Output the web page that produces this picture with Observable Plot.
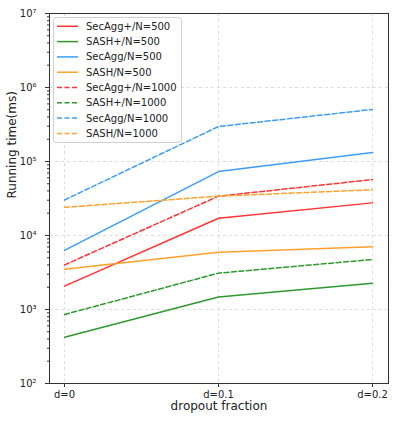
<!DOCTYPE html>
<html>
<head>
<meta charset="utf-8">
<script src="https://cdn.jsdelivr.net/npm/d3@7"></script>
<script src="https://cdn.jsdelivr.net/npm/@observablehq/plot@0.6"></script>
<style>
  html, body { margin: 0; padding: 0; background: white; }
  #chart { position: relative; width: 394px; height: 423px; }
</style>
</head>
<body>
<div id="chart"></div>
<script>
// ---- data ----
const dropout = ["d=0", "d=0.1", "d=0.2"];
const algorithms = ["SecAgg+", "SASH+", "SecAgg", "SASH"];
const algoColors = ["#ff3333", "#2e9a2e", "#3d9df5", "#ffa12b"];
const seriesNames = [
  "SecAgg+/N=500", "SASH+/N=500", "SecAgg/N=500", "SASH/N=500",
  "SecAgg+/N=1000", "SASH+/N=1000", "SecAgg/N=1000", "SASH/N=1000"
];
// running time (ms) at d=0, d=0.1, d=0.2
const secAggPlus500 = [2070, 17100, 27600];
const sashPlus500 = [423, 1480, 2270];
const secAgg500 = [6300, 73000, 132000];
const sash500 = [3500, 5950, 7030];
const secAggPlus1000 = [4000, 34000, 57000];
const sashPlus1000 = [855, 3100, 4740];
const secAgg1000 = [30200, 297000, 505000];
const sash1000 = [24000, 34000, 41500];
const yMajorTicks = [1e2, 1e3, 1e4, 1e5, 1e6, 1e7];
const yTickLabels = ["10²", "10³", "10⁴", "10⁵", "10⁶", "10⁷"];

const seriesValues = [secAggPlus500, sashPlus500, secAgg500, sash500,
  secAggPlus1000, sashPlus1000, secAgg1000, sash1000];

const rows = [];
seriesNames.forEach((name, i) => {
  const [algo, n] = name.split("/N=");
  seriesValues[i].forEach((v, j) => rows.push({series: name, algo, n: +n, x: dropout[j], value: v}));
});

const yMinorTicks = [];
for (let e = 2; e < 7; e++) for (let k = 2; k <= 9; k++) yMinorTicks.push(k * Math.pow(10, e));

const gridStyle = {stroke: "#d4d4d4", strokeOpacity: 1, strokeDasharray: "3,3", strokeWidth: 0.8};

const plot = Plot.plot({
  width: 394,
  height: 423,
  marginLeft: 49,
  marginRight: 6,
  marginTop: 13,
  marginBottom: 40,
  style: {fontFamily: "DejaVu Sans, sans-serif", fontSize: "10px", background: "white", color: "#222"},
  x: {type: "point", domain: dropout, padding: 0, insetLeft: 14, insetRight: 16, label: null},
  y: {type: "log", domain: [1e2, 1e7], label: null},
  color: {domain: algorithms, range: algoColors},
  marks: [
    Plot.gridY(yMajorTicks, gridStyle),
    Plot.gridX(dropout, gridStyle),
    Plot.axisY(yMinorTicks, {tickSize: 2, tickFormat: () => "", label: null, stroke: "#333"}),
    Plot.axisY(yMajorTicks, {tickSize: 4, tickPadding: 9, label: null, stroke: "#333",
      tickFormat: (d) => yTickLabels[yMajorTicks.indexOf(d)]}),
    Plot.axisX(dropout, {tickSize: 4, tickPadding: 3, label: null, stroke: "#333"}),
    Plot.line(rows.filter(d => d.n === 500), {x: "x", y: "value", z: "series", stroke: "algo", strokeWidth: 1.5}),
    Plot.line(rows.filter(d => d.n === 1000), {x: "x", y: "value", z: "series", stroke: "algo", strokeWidth: 1.5, strokeDasharray: "5,2.5"}),
    Plot.frame({stroke: "#333", strokeWidth: 1}),
    Plot.text(["dropout fraction"], {frameAnchor: "bottom", dy: 26, fontSize: 12, fill: "#222"}),
    Plot.text(["Running time(ms)"], {frameAnchor: "left", dx: -37, rotate: -90, fontSize: 12, fill: "#222"})
  ]
});

document.getElementById("chart").appendChild(plot);

// ---- legend (inside plot, top-left) ----
const svg = d3.select(plot);
const lg = svg.append("g")
  .attr("font-family", "DejaVu Sans, sans-serif")
  .attr("font-size", 10)
  .attr("text-anchor", "start");
lg.append("rect")
  .attr("x", 53.5).attr("y", 17.5).attr("width", 128).attr("height", 125)
  .attr("rx", 3).attr("fill", "white").attr("fill-opacity", 0.85)
  .attr("stroke", "#d0d0d0");
seriesNames.forEach((name, i) => {
  const algo = name.split("/N=")[0];
  const dashed = name.endsWith("1000");
  const y = 26.3 + i * 15.3;
  lg.append("path")
    .attr("d", `M57,${y}H78`)
    .attr("fill", "none")
    .attr("stroke", algoColors[algorithms.indexOf(algo)])
    .attr("stroke-width", 1.5)
    .attr("stroke-dasharray", dashed ? "5,2.5" : null);
  lg.append("text")
    .attr("x", 86).attr("y", y).attr("dy", "0.35em")
    .attr("text-anchor", "start")
    .attr("fill", "#222")
    .text(name);
});
</script>
</body>
</html>
